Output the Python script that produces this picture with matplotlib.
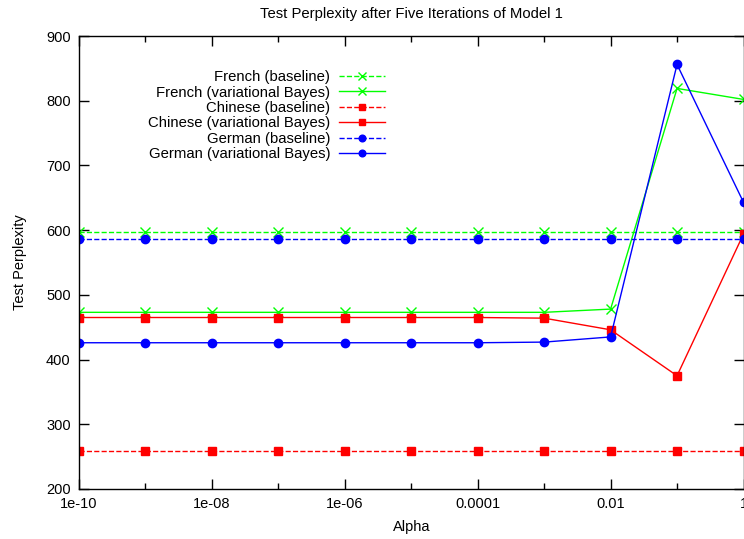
import matplotlib
matplotlib.use('Agg')
import matplotlib.pyplot as plt
from matplotlib.ticker import FixedLocator, NullFormatter

plt.rcParams['font.family'] = ['Liberation Sans', 'DejaVu Sans']

alpha = [1e-10, 1e-9, 1e-8, 1e-7, 1e-6, 1e-5, 1e-4, 1e-3, 1e-2, 1e-1, 1]

french_base = [597] * 11
french_vb = [473, 473, 473, 473, 473, 473, 473, 473, 478, 819, 802]
chinese_base = [258] * 11
chinese_vb = [465, 465, 465, 465, 465, 465, 465, 464, 446, 375, 594]
german_base = [587] * 11
german_vb = [426, 426, 426, 426, 426, 426, 426, 427, 435, 856, 643]

xtick_vals = [1e-10, 1e-8, 1e-6, 1e-4, 1e-2, 1]
xtick_labels = ['1e-10', '1e-08', '1e-06', '0.0001', '0.01', '1']
minor_vals = [1e-9, 1e-7, 1e-5, 1e-3, 1e-1]

fig = plt.figure(figsize=(7.44, 5.39), dpi=100)
ax = fig.add_axes([79 / 744, 50 / 539, 664.5 / 744, 453 / 539])

ax.plot(alpha, french_base, '--', color='#00ff00', marker='x', ms=7, mew=1, lw=1,
        label='French (baseline)')
ax.plot(alpha, french_vb, '-', color='#00ff00', marker='x', ms=7, mew=1, lw=1,
        label='French (variational Bayes)')
ax.plot(alpha, chinese_base, '--', color='#ff0000', marker='s', ms=6, lw=1,
        label='Chinese (baseline)')
ax.plot(alpha, chinese_vb, '-', color='#ff0000', marker='s', ms=6, lw=1,
        label='Chinese (variational Bayes)')
ax.plot(alpha, german_base, '--', color='#0000ff', marker='o', ms=6, lw=1,
        label='German (baseline)')
ax.plot(alpha, german_vb, '-', color='#0000ff', marker='o', ms=6, lw=1,
        label='German (variational Bayes)')

ax.set_xscale('log')
ax.set_xlim(1e-10, 1)
ax.set_ylim(200, 900)
ax.xaxis.set_major_locator(FixedLocator(xtick_vals))
ax.set_xticklabels(xtick_labels)
ax.xaxis.set_minor_locator(FixedLocator(minor_vals))
ax.xaxis.set_minor_formatter(NullFormatter())
ax.set_yticks(range(200, 901, 100))

ax.tick_params(which='both', direction='in', top=True, right=True,
               labelsize=10.5, pad=6, width=1)
ax.tick_params(which='major', length=7)
ax.tick_params(which='minor', length=4)
for s in ax.spines.values():
    s.set_linewidth(1)

ax.set_title('Test Perplexity after Five Iterations of Model 1', fontsize=10.7, pad=13)
ax.set_xlabel('Alpha', fontsize=10.5, labelpad=6)
ax.set_ylabel('Test Perplexity', fontsize=10.5, labelpad=14)

leg = ax.legend(loc='upper left', bbox_to_anchor=(0.095, 0.938), frameon=False,
                fontsize=10.7, markerfirst=False, handlelength=3.1, markerscale=0.8,
                labelspacing=0.1, handletextpad=0.6, borderaxespad=0)
for t in leg.get_texts():
    t.set_ha('right')
    t.set_position((0, 0))
leg._legend_box.align = 'right'

fig.savefig('out.png', dpi=100)
